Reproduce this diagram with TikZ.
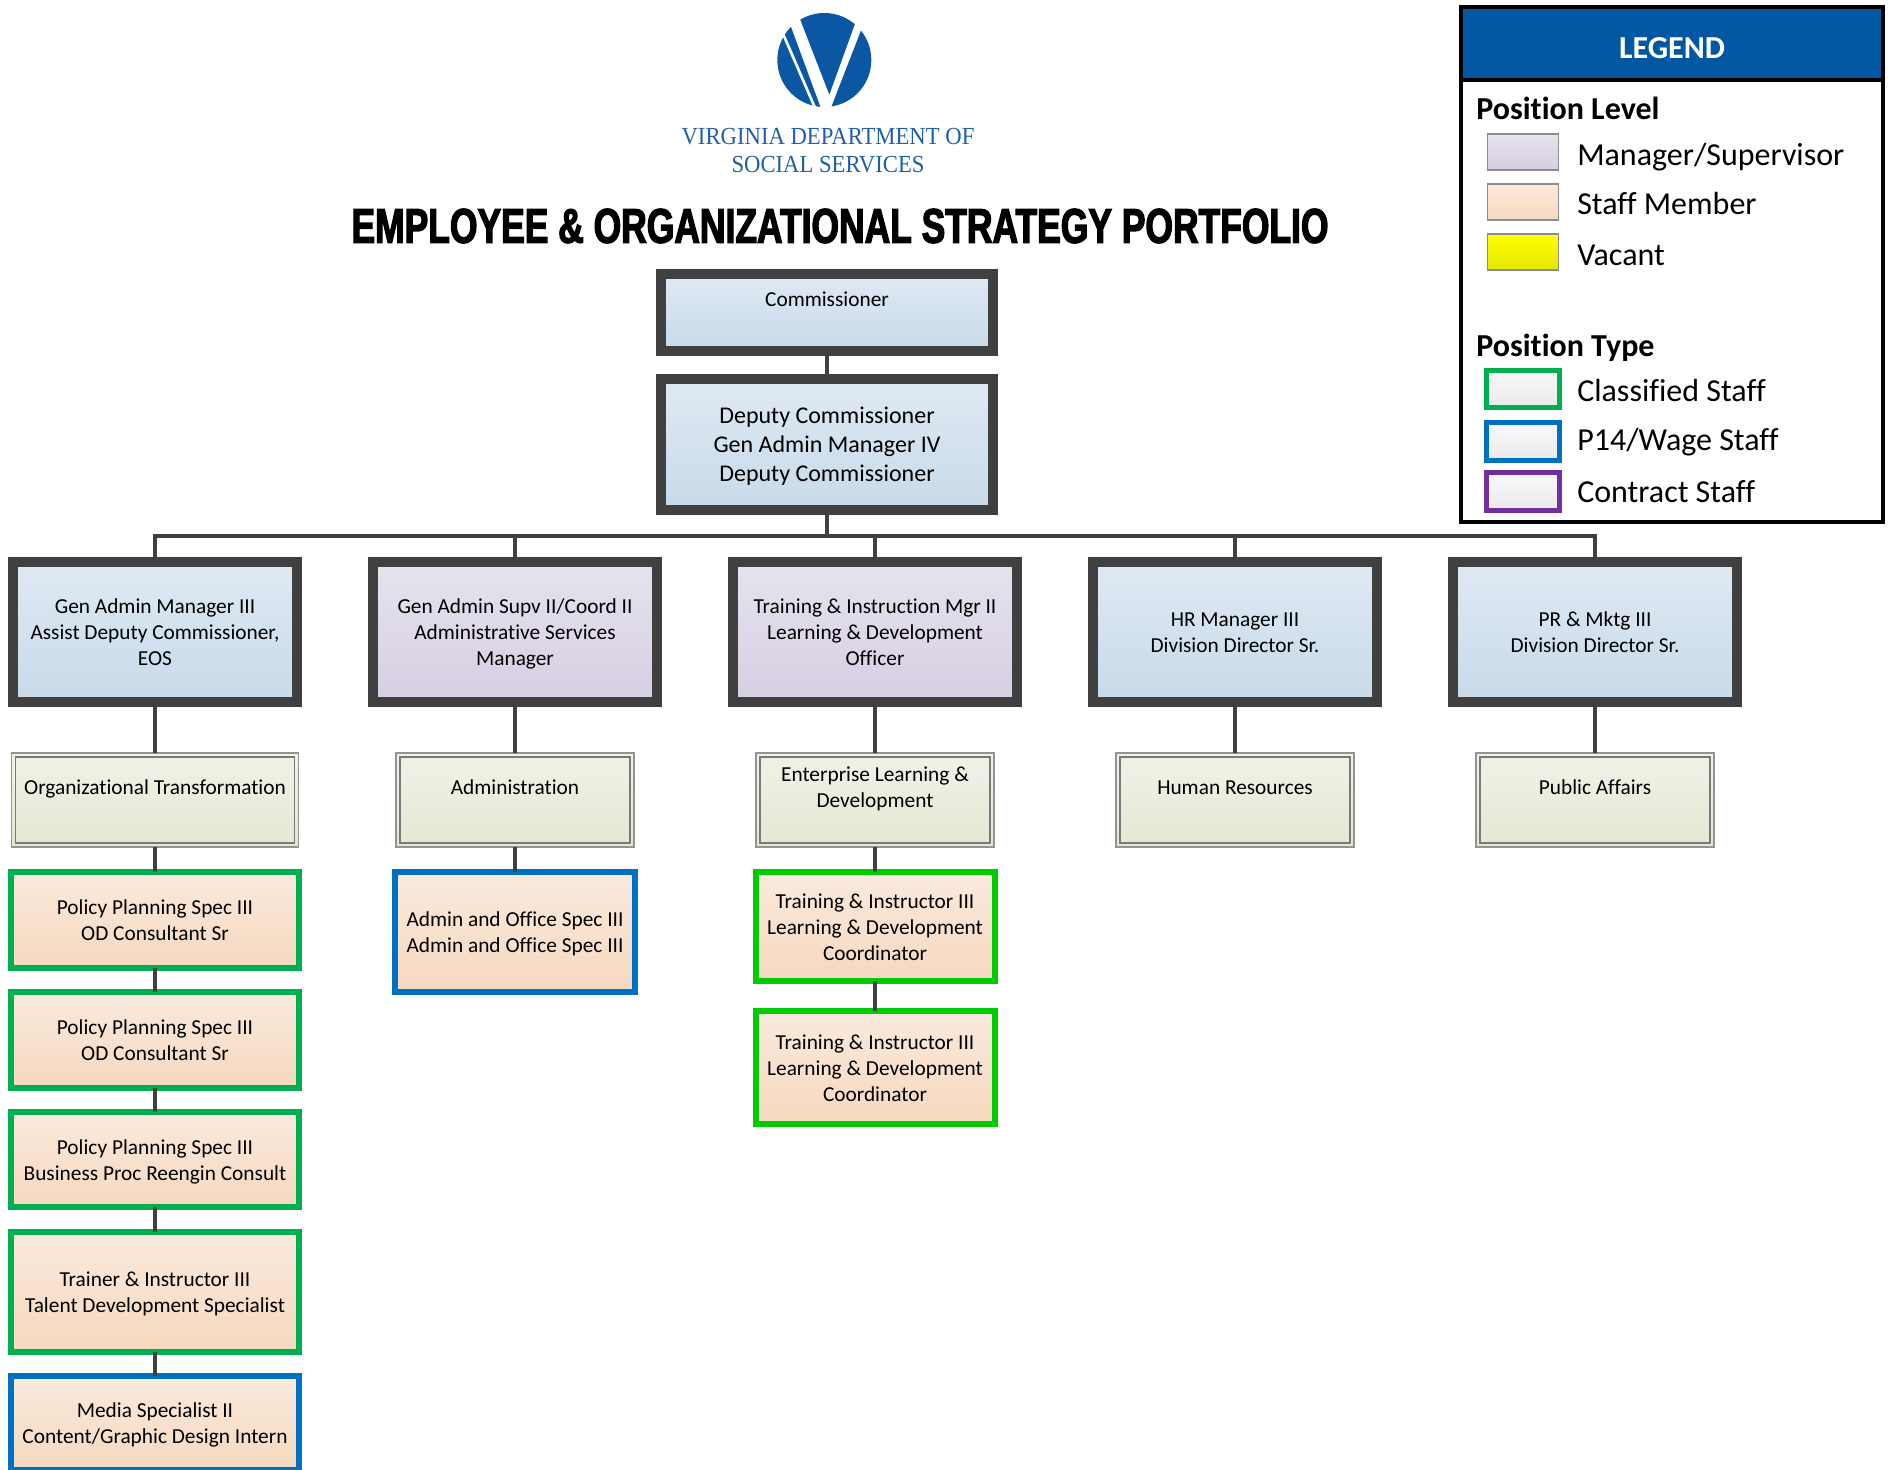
\documentclass[tikz,border=0pt]{standalone}
\usepackage{fontspec}
\setmainfont{Carlito}[Ligatures=NoCommon]
\newfontfamily\serifdss{Liberation Serif}[FakeStretch=0.925]
\newfontfamily\titlefont{Liberation Sans}[FakeStretch=0.728,BoldFeatures={FakeBold=2.5}]
\definecolor{dark}{HTML}{404040}
\definecolor{gclass}{HTML}{00B050}
\definecolor{gbright}{HTML}{00CC00}
\definecolor{pblue}{HTML}{0070C0}
\definecolor{cpurple}{HTML}{7030A0}
\definecolor{vdss}{HTML}{0B57A4}
\definecolor{vtext}{HTML}{1F5FA8}
\definecolor{legendblue}{HTML}{0058A3}
\colorlet{unitline}{black!42}
\colorlet{unitinner}{black!52}
\definecolor{blueA}{HTML}{DFE9F3}
\definecolor{blueB}{HTML}{C8DAE9}
\definecolor{mgrA}{HTML}{E6E3EE}
\definecolor{mgrB}{HTML}{D6CEE2}
\definecolor{staffA}{HTML}{FAEADE}
\definecolor{staffB}{HTML}{F6D8BE}
\definecolor{unitA}{HTML}{F0F2E7}
\definecolor{unitB}{HTML}{E3E8D3}
\definecolor{plainA}{HTML}{F9F9F9}
\definecolor{plainB}{HTML}{EAEAEA}
\definecolor{vacA}{HTML}{FFFF00}
\definecolor{vacB}{HTML}{E6E600}
\newcommand{\boxfont}{\fontsize{16}{19.5}\selectfont}
\newcommand{\bigboxfont}{\fontsize{18}{21.75}\selectfont}
\newcommand{\legfont}{\fontsize{24}{28}\selectfont}
\newcommand{\toprule}{\rule{0pt}{15.4pt}}
\tikzset{
  sz/.style n args={2}{minimum width=#1*0.75pt,minimum height=#2*0.75pt},
  box/.style={rectangle,inner sep=0pt,outer sep=0pt,align=center,font=\boxfont,text=black,draw,
    execute at end node={\rule[-4pt]{0pt}{4pt}}},
  bluegrad/.style={top color=blueA,bottom color=blueB},
  mgrgrad/.style={top color=mgrA,bottom color=mgrB},
  staffgrad/.style={top color=staffA,bottom color=staffB},
  exec/.style={box,draw=dark,line width=7.5pt},
  exbox/.style={exec,bluegrad},
  mgrbox/.style={exec,mgrgrad},
  unitbox/.style={box,draw=unitline,line width=1.2pt,top color=unitA,bottom color=unitB,
    path picture={\draw[unitinner,line width=0.9pt]
      ([shift={(3pt,-3pt)}]path picture bounding box.north west) rectangle
      ([shift={(-3pt,3pt)}]path picture bounding box.south east);}},
  staff/.style={box,staffgrad,line width=4.5pt},
  classbox/.style={staff,draw=gclass},
  brightbox/.style={staff,draw=gbright},
  wagebox/.style={staff,draw=pblue},
  conn/.style={draw=dark,line width=2.3pt},
  busline/.style={draw=dark,line width=2.5pt},
  connthick/.style={draw=dark,line width=3pt},
  conntop/.style={draw=dark,line width=2.35pt},
  legtext/.style={anchor=base west,inner sep=0pt,font=\legfont,text=black},
  leghead/.style={legtext,font=\legfont\bfseries},
  swatch/.style={rectangle,inner sep=0pt,outer sep=0pt,line width=1.2pt,minimum width=53pt,minimum height=27pt},
  tswatch/.style={rectangle,inner sep=0pt,outer sep=0pt,line width=3.75pt,minimum width=54.5pt,minimum height=28pt,
    top color=plainA,bottom color=plainB},
}
\begin{document}
\begin{tikzpicture}[x=0.75pt,y=-0.75pt]
\useasboundingbox (0,0) rectangle (1892,1470);

% logo
\begin{scope}[shift={(640,0)},x=0.25pt,y=-0.25pt]
  \fill[vdss] (553,180) circle[radius=35.25pt];
  \fill[white] (480,58) -- (568,285) -- (645,72) -- (660,30) -- (700,60) -- (662,93) -- (570,330) -- (545,330) -- (455,85) -- (440,40) -- (475,30) -- cycle;
  \draw[white,line width=2pt] (425,92) -- (527,328);
\end{scope}
\node[align=center,font=\serifdss\fontsize{18.4}{21}\selectfont,text=vtext,inner sep=0pt] (dss) at (828,151) {VIRGINIA DEPARTMENT OF\\SOCIAL SERVICES};
\node[font=\titlefont\bfseries\fontsize{36.5}{40}\selectfont,text=black,inner sep=0pt] (title) at (840,226) {EMPLOYEE \& ORGANIZATIONAL STRATEGY PORTFOLIO};

% top
\node[exbox,sz={332}{77}] (comm) at (827,312.5) {\toprule Commissioner\\[1.3pt]};
\node[exbox,sz={332}{131},font=\bigboxfont] (dep) at (827,444.5) {\rule{0pt}{16.4pt}Deputy Commissioner\\Gen Admin Manager IV\\Deputy Commissioner};

% level 2
\node[exbox,sz={284}{140}] (l1) at (155,632) {\toprule Gen Admin Manager III\\Assist Deputy Commissioner,\\EOS};
\node[mgrbox,sz={284}{140}] (l2) at (515,632) {\toprule Gen Admin Supv II/Coord II\\Administrative Services\\Manager};
\node[mgrbox,sz={284}{140}] (l3) at (875,632) {\toprule Training \& Instruction Mgr II\\Learning \& Development\\Officer};
\node[exbox,sz={284}{140}] (l4) at (1235,632) {\toprule HR Manager III\\Division Director Sr.};
\node[exbox,sz={284}{140}] (l5) at (1595,632) {\toprule PR \& Mktg III\\Division Director Sr.};

% units
\node[unitbox,sz={287}{94}] (u1) at (155,800) {\toprule Organizational Transformation\\};
\node[unitbox,sz={238}{94}] (u2) at (515,800) {\toprule Administration\\};
\node[unitbox,sz={238}{94}] (u3) at (875,800) {\toprule Enterprise Learning \&\\Development\\};
\node[unitbox,sz={238}{94}] (u4) at (1235,800) {\toprule Human Resources\\};
\node[unitbox,sz={238}{94}] (u5) at (1595,800) {\toprule Public Affairs\\};

% staff column 1
\node[classbox,sz={288}{96}] (s1) at (155,920) {\toprule Policy Planning Spec III\\OD Consultant Sr};
\node[classbox,sz={288}{96}] (s2) at (155,1040) {\toprule Policy Planning Spec III\\OD Consultant Sr};
\node[classbox,sz={288}{95}] (s3) at (155,1159.5) {\toprule Policy Planning Spec III\\Business Proc Reengin Consult};
\node[classbox,sz={288}{120}] (s4) at (155,1292) {\toprule Trainer \& Instructor III\\Talent Development Specialist};
\node[wagebox,sz={288}{94}] (s5) at (155,1423) {\toprule Media Specialist II\\Content/Graphic Design Intern};

% staff others
\node[wagebox,sz={240}{120}] (a1) at (515,932) {\toprule Admin and Office Spec III\\Admin and Office Spec III};
\node[brightbox,sz={239}{109}] (t1) at (875,926.5) {\toprule Training \& Instructor III\\Learning \& Development\\Coordinator};
\node[brightbox,sz={239}{113}] (t2) at (875,1067.5) {\toprule Training \& Instructor III\\Learning \& Development\\Coordinator};

% connectors
\coordinate (bus) at (827,536);
\coordinate (busend) at (1307,536);
\draw[connthick] (comm.south) -- (dep.north);
\draw[connthick] (dep.south) -- (bus);
\draw[conntop] (bus) -| (l5.north);
\draw[busline] (bus) -- (busend);
\draw[conn] (bus) -| (l1.north);
\draw[conn] (bus) -| (l2.north);
\draw[conn] (bus) -| (l3.north);
\draw[conn] (bus) -| (l4.north);
\foreach \a/\b in {l1/u1,l2/u2,l3/u3,l4/u4,l5/u5,u1/s1,s1/s2,s2/s3,s3/s4,s4/s5,u2/a1,u3/t1,t1/t2}
  \draw[conn] (\a.south) -- (\b.north);

% legend
\node[rectangle,inner sep=0pt,outer sep=0pt,fill=legendblue,minimum width=316.5pt,minimum height=54.75pt,font=\legfont\bfseries,text=white] (leghdr) at (1672,43.5) {\raisebox{-11.4pt}[0pt][0pt]{LEGEND}};
\node[rectangle,inner sep=0pt,outer sep=0pt,draw=black,line width=2.6pt,minimum width=316.5pt,minimum height=386pt] (legframe) at (1672,264.5) {};
\draw[black,line width=2.6pt] (leghdr.south west) -- (leghdr.south east);

\node[leghead] (lvl) at (1476,119) {Position Level};
\node[swatch,draw=black!45,top color=mgrA,bottom color=mgrB] (swm) at (1523,152) {};
\node[legtext] (tm) at (1577,165) {Manager/Supervisor};
\node[swatch,draw=black!45,top color=staffA,bottom color=staffB] (sws) at (1523,202) {};
\node[legtext] (ts) at (1577,214.5) {Staff Member};
\node[swatch,draw=black!45,top color=vacA,bottom color=vacB] (swv) at (1523,252) {};
\node[legtext] (tv) at (1577,265.5) {Vacant};
\node[leghead] (typ) at (1476,356) {Position Type};
\node[tswatch,draw=gclass] (swc) at (1523,389) {};
\node[legtext] (tc) at (1577,401) {Classified Staff};
\node[tswatch,draw=pblue] (swp) at (1523,441.5) {};
\node[legtext] (tp) at (1577,450) {P14/Wage Staff};
\node[tswatch,draw=cpurple] (swk) at (1523,491.5) {};
\node[legtext] (tk) at (1577,502) {Contract Staff};
\end{tikzpicture}
\end{document}
